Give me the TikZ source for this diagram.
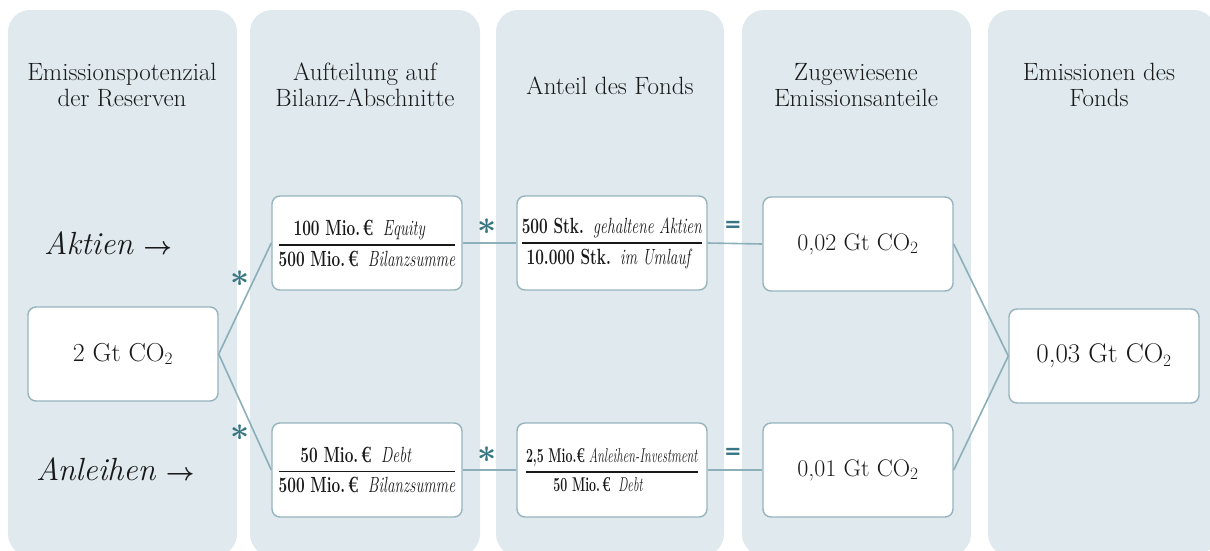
\documentclass[tikz,border=0pt]{standalone}
\usepackage{fontspec}
\usepackage{amsmath}
\usepackage{graphicx}
\newfontfamily\symfont{DejaVu Sans}
\definecolor{colbg}{RGB}{223,233,238}
\definecolor{boxline}{RGB}{150,180,190}
\definecolor{lineclr}{RGB}{140,175,186}
\definecolor{symclr}{RGB}{55,118,130}
\definecolor{txt}{RGB}{25,25,25}
\newcommand{\frc}[4]{{\fontsize{#1}{#1}\selectfont$\genfrac{}{}{1.6pt}{0}{\scalebox{#2}[1]{#3}}{\scalebox{#2}[1]{#4}}$}}
\newcommand{\bigast}{\scalebox{1.6}{$\boldsymbol{\ast}$}}
\tikzset{
  colfill/.style={fill=colbg, rounded corners=22pt},
  box/.style={draw=boxline, fill=white, rounded corners=8pt, line width=1.4pt,
    minimum width=190pt, minimum height=94pt, inner sep=0pt, text=txt},
  conn/.style={draw=lineclr, line width=1.6pt},
  hdr/.style={font=\fontsize{25}{26}\selectfont, align=center, text=txt},
  lbl/.style={font=\fontsize{32}{34}\selectfont, text=txt, anchor=base west, inner sep=0pt},
  astsym/.style={text=symclr, font=\fontsize{20}{20}\selectfont, inner sep=0pt},
  eqsym/.style={text=symclr, font=\symfont\bfseries\fontsize{21}{21}\selectfont, inner sep=0pt},
  co/.style={font=\fontsize{24}{28}\selectfont}
}
\begin{document}
\begin{tikzpicture}[x=1pt,y=-1pt]
\useasboundingbox (0,0) rectangle (1210,550);
% columns
\fill[colfill] (8,10) rectangle (237,556);
\fill[colfill] (250,10) rectangle (480,556);
\fill[colfill] (496,10) rectangle (724,556);
\fill[colfill] (742,10) rectangle (971,556);
\fill[colfill] (988,10) rectangle (1216,556);
% headers
\node[hdr] (h1) at (122,85) {Emissionspotenzial\\der Reserven};
\node[hdr] (h2) at (365,85) {Aufteilung auf\\Bilanz-Abschnitte};
\node[hdr] (h3) at (610,86) {Anteil des Fonds};
\node[hdr] (h4) at (856,85) {Zugewiesene\\Emissionsanteile};
\node[hdr] (h5) at (1099,85) {Emissionen des\\Fonds};
% side labels
\node[lbl] (l1) at (44,254) {\textit{Aktien} $\boldsymbol{\rightarrow}$};
\node[lbl] (l2) at (36,480) {\textit{Anleihen} $\boldsymbol{\rightarrow}$};
% boxes
\node[box,font=\fontsize{26}{28}\selectfont] (src) at (123,354) {2 Gt CO$_2$};
\node[box] (eq) at (367,243) {\frc{22}{0.70}{\textbf{100 Mio.\,€}\ \ \textit{Equity}}{\textbf{500 Mio.\,€}\ \ \textit{Bilanzsumme}}};
\node[box] (dbt) at (367,470) {\frc{22}{0.70}{\textbf{50 Mio.\,€}\ \ \textit{Debt}}{\textbf{500 Mio.\,€}\ \ \textit{Bilanzsumme}}};
\node[box] (sh) at (612,243) {\frc{22}{0.70}{\textbf{500 Stk.}\ \ \textit{gehaltene Aktien}}{\textbf{10.000 Stk.}\ \ \textit{im Umlauf}}};
\node[box] (bd) at (612,470) {\frc{20}{0.62}{\textbf{2,5 Mio.€}\ \textit{Anleihen-Investment}}{\textbf{50 Mio.\,€}\ \ \textit{Debt}}};
\node[box,co] (e1) at (858,244) {0,02 Gt CO$_2$};
\node[box,co] (e2) at (858,470) {0,01 Gt CO$_2$};
\node[box,font=\fontsize{27}{30}\selectfont] (tot) at (1104,356) {0,03 Gt CO$_2$};
% connectors
\draw[conn] (src.east) -- (eq.west);
\draw[conn] (src.east) -- (dbt.west);
\draw[conn] (eq.east) -- (sh.west);
\draw[conn] (dbt.east) -- (bd.west);
\draw[conn] (sh.east) -- (e1.west);
\draw[conn] (bd.east) -- (e2.west);
\draw[conn] (e1.east) -- (tot.west);
\draw[conn] (e2.east) -- (tot.west);
% operators
\node[astsym] (s1) at (240,279) {\bigast};
\node[astsym] (s2) at (240,433) {\bigast};
\node[astsym] (s3) at (487,227) {\bigast};
\node[astsym] (s4) at (487,455) {\bigast};
\node[eqsym] (s5) at (733,226) {=};
\node[eqsym] (s6) at (733,453) {=};
\end{tikzpicture}
\end{document}
